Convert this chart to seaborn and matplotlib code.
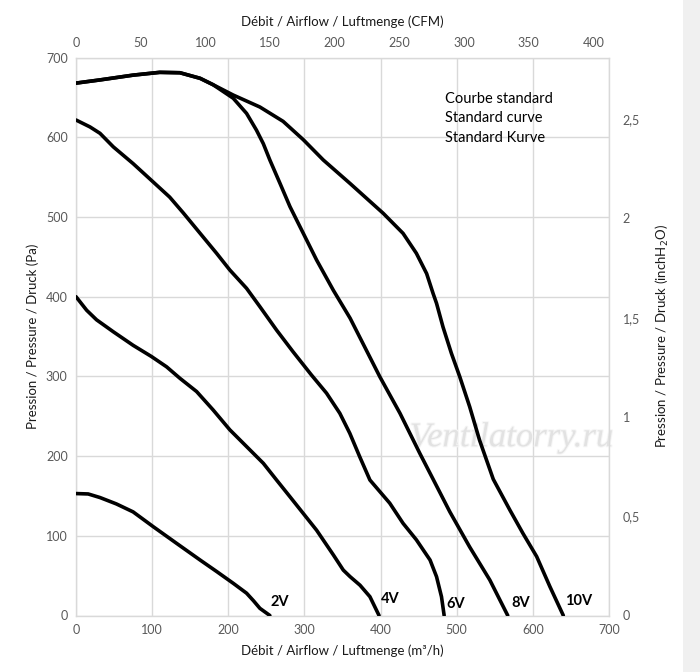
import matplotlib
matplotlib.use("Agg")
import matplotlib.pyplot as plt
import matplotlib.patches as mpatches
import matplotlib.patheffects as pe
import seaborn as sns
import pandas as pd

# ---- data (flow m3/h, pressure Pa) ----
v10_x = [0, 31.5, 75, 110, 136.5, 163, 180, 206.5, 241.5, 272, 298.5, 324.8, 360, 403.5, 429.5,
         447, 460.5, 469, 473.5, 482, 493, 504, 517, 530, 548, 570, 587, 605, 622.5, 640]
v10_y = [668, 672, 678, 681.5, 681, 674, 666, 653, 638, 620, 597, 571.5, 542, 504.6, 479.5,
         454.5, 429, 404, 391.7, 362, 329, 299.6, 262, 220, 171, 132, 103, 74, 36, 0]
v8_x = [0, 31.5, 75, 110, 136.5, 163, 180, 206.5, 224, 237, 246, 254.6, 268, 281, 298.5, 316,
        338, 360, 399, 425.5, 451.5, 469, 491, 517, 543.5, 567]
v8_y = [668, 672, 678, 681.5, 681, 674, 666, 649, 630, 609, 592, 571.5, 542, 513, 479.5, 446,
        408, 373, 299.6, 253.7, 203.5, 171, 130, 86, 44.5, 0]
v6_x = [0, 18.4, 31.5, 49, 75, 99, 123, 141, 163, 184.6, 202, 224, 241.5, 263.5, 285, 309, 329,
        346.5, 359.6, 372.7, 386, 412, 429.5, 447, 465, 473.5, 480, 483.5]
v6_y = [621.7, 613, 605, 588, 567, 546, 525, 505, 479.5, 454.5, 433.5, 410.5, 387.5, 358, 331,
        302, 279, 253.7, 228.6, 199, 170, 141, 115.7, 95, 69.6, 48.7, 23.6, 0]
v4_x = [0, 14, 27, 49, 75, 99, 119, 136.5, 158.4, 180, 202, 224, 246, 263.4, 281, 298.5, 316,
        338, 351, 360, 373, 386, 398]
v4_y = [400, 383, 371, 356, 339, 325, 312, 297.6, 281, 258, 233, 212, 191, 170, 149, 128, 107,
        76, 57, 48.7, 38, 23.6, 0]
v2_x = [0, 16, 31.5, 53, 75, 101.5, 132, 163, 185, 206.5, 224, 233, 241.5, 254.6]
v2_y = [153, 152.5, 148, 140, 130, 111.4, 90.6, 69.6, 55, 40.4, 28, 18.6, 9, 0]

curve_labels = ["2V", "4V", "6V", "8V", "10V"]
label_x = [256, 401, 486, 572, 642]
label_y = [8, 12, 6, 7, 10]

x_ticks = [0, 100, 200, 300, 400, 500, 600, 700]
y_ticks = [0, 100, 200, 300, 400, 500, 600, 700]
cfm_ticks = [0, 50, 100, 150, 200, 250, 300, 350, 400]
inch_ticks = [0, 0.5, 1, 1.5, 2, 2.5]
inch_labels = ["0", "0,5", "1", "1,5", "2", "2,5"]
note_lines = ["Courbe standard", "Standard curve", "Standard Kurve"]

frames = []
for name, xs, ys in [("10V", v10_x, v10_y), ("8V", v8_x, v8_y), ("6V", v6_x, v6_y),
                     ("4V", v4_x, v4_y), ("2V", v2_x, v2_y)]:
    frames.append(pd.DataFrame({"flow": xs, "pressure": ys, "speed": name}))
df = pd.concat(frames, ignore_index=True)

sns.set_theme(style="white")
plt.rcParams["font.family"] = ["Lato", "DejaVu Sans"]

fig = plt.figure(figsize=(7.0, 6.72), dpi=100)
fig.patches.append(mpatches.Rectangle((683 / 700, 0), 17 / 700, 1, transform=fig.transFigure,
                                      facecolor="#f0f0f0", edgecolor="none", zorder=0))
ax = fig.add_axes([76 / 700, 1 - 615.5 / 672, 533 / 700, 557.9 / 672])

grid_c = "#d9d9d9"
sns.lineplot(data=df, x="flow", y="pressure", hue="speed", units="speed", estimator=None,
             sort=False, palette={k: "black" for k in curve_labels}, legend=False,
             linewidth=2.6, ax=ax, zorder=3)
for ln in ax.lines:
    ln.set_solid_capstyle("round")
    ln.set_solid_joinstyle("round")

ax.set_xlim(0, 700)
ax.set_ylim(0, 700)
ax.set_xticks(x_ticks)
ax.set_yticks(y_ticks)
ax.grid(True, color=grid_c, linewidth=1.0)
for s in ax.spines.values():
    s.set_color(grid_c)
    s.set_linewidth(1.0)
tick_c = "#595959"
ax.tick_params(axis="both", length=0, labelsize=9, colors=tick_c, pad=6)
ax.set_xlabel("Débit / Airflow / Luftmenge (m³/h)", fontsize=9.5, color="#1a1a1a", labelpad=6)
ax.set_ylabel("Pression / Pressure / Druck (Pa)", fontsize=9.5, color="#1a1a1a", labelpad=5)

top = ax.secondary_xaxis("top", functions=(lambda v: v / 1.699, lambda v: v * 1.699))
top.set_xticks(cfm_ticks)
top.tick_params(length=0, labelsize=9, colors=tick_c, pad=6)
top.set_xlabel("Débit / Airflow / Luftmenge (CFM)", fontsize=9.5, color="#1a1a1a", labelpad=8)
top.spines["top"].set_visible(False)

right = ax.secondary_yaxis("right", functions=(lambda v: v / 249.09, lambda v: v * 249.09))
right.set_yticks(inch_ticks)
right.set_yticklabels(inch_labels)
right.tick_params(length=0, labelsize=9, colors=tick_c, pad=10)
right.set_ylabel("Pression / Pressure / Druck (inchH$_2$O)", fontsize=9.5, color="#1a1a1a", labelpad=10)
right.spines["right"].set_visible(False)

for lab, lx, ly in zip(curve_labels, label_x, label_y):
    ax.text(lx, ly, lab, fontsize=10.5, fontweight="bold", color="black", ha="left", va="bottom", zorder=4)

ax.text(485, 657, "\n".join(note_lines), fontsize=10.5, color="black", ha="left", va="top",
        linespacing=1.5, zorder=4)

ax.text(572, 223, "Ventilatorry.ru", fontsize=25, fontstyle="italic",
        family=["Liberation Serif", "DejaVu Serif"], color="#e2e2e2", ha="center", va="center",
        zorder=2, path_effects=[pe.withStroke(linewidth=1.5, foreground="#f6f6f6")])

fig.savefig("out.png", dpi=100)
